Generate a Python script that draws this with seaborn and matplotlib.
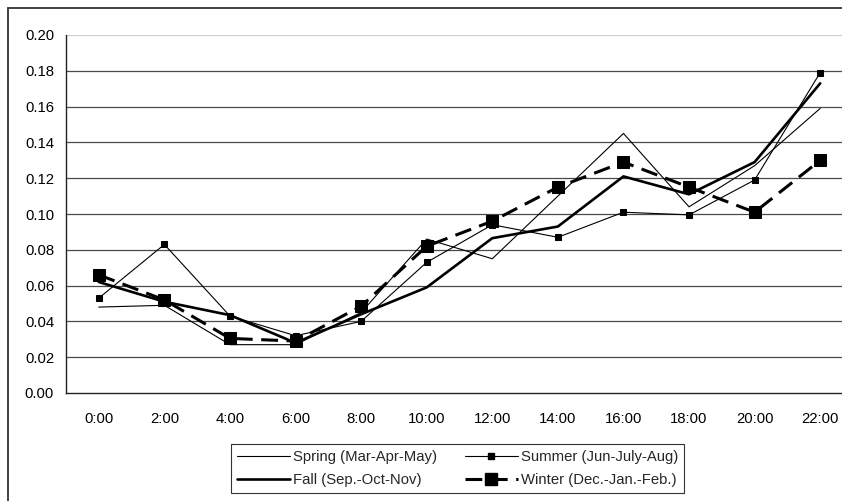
import matplotlib
matplotlib.use("Agg")
import matplotlib.pyplot as plt
from matplotlib.lines import Line2D
import seaborn as sns
import pandas as pd

hours = ["0:00", "2:00", "4:00", "6:00", "8:00", "10:00",
         "12:00", "14:00", "16:00", "18:00", "20:00", "22:00"]
spring = [0.048, 0.049, 0.027, 0.027, 0.045, 0.086, 0.075, 0.110, 0.145, 0.104, 0.127, 0.159]
summer = [0.053, 0.083, 0.043, 0.032, 0.040, 0.073, 0.094, 0.087, 0.101, 0.0995, 0.119, 0.179]
fall   = [0.062, 0.051, 0.0435, 0.028, 0.044, 0.059, 0.0865, 0.093, 0.121, 0.111, 0.129, 0.173]
winter = [0.066, 0.052, 0.0305, 0.029, 0.0485, 0.082, 0.096, 0.115, 0.129, 0.115, 0.101, 0.130]
series_names = ["Spring (Mar-Apr-May)", "Summer (Jun-July-Aug)",
                "Fall (Sep.-Oct-Nov)", "Winter (Dec.-Jan.-Feb.)"]
y_ticks = [0.00, 0.02, 0.04, 0.06, 0.08, 0.10, 0.12, 0.14, 0.16, 0.18, 0.20]

sns.set_theme(style="white")
plt.rcParams["font.family"] = ["Liberation Sans", "DejaVu Sans"]
FS = 10.7

W, H = 842, 501
fig = plt.figure(figsize=(W / 100, H / 100), dpi=100)
fig.patch.set_facecolor("white")

# plot area in pixel units
left, top, bottom, right = 66, 35, 393, 853
ax = fig.add_axes([left / W, (H - bottom) / H, (right - left) / W, (bottom - top) / H])
ax.set_facecolor("white")

pos = list(range(len(hours)))
df = pd.DataFrame({"pos": pos, "hour": hours,
                   "spring": spring, "summer": summer, "fall": fall, "winter": winter})

# horizontal gridlines
for v in y_ticks[1:]:
    ax.axhline(v, color="#cfcfcf" if v >= 0.199 else "#4a4a4a", lw=0.9, zorder=1)

styles = [
    dict(col="spring", lw=0.8, marker=None, ms=0, dash=None),
    dict(col="summer", lw=0.8, marker="s", ms=5.0, dash=None),
    dict(col="fall", lw=1.9, marker=None, ms=0, dash=None),
    dict(col="winter", lw=2.2, marker="s", ms=8.5, dash=(5.5, 2.8)),
]
for name, st in zip(series_names, styles):
    sns.lineplot(data=df, x="pos", y=st["col"], ax=ax, color="black",
                 linewidth=st["lw"], marker=st["marker"], markersize=st["ms"],
                 markeredgecolor="black", markerfacecolor="black",
                 label=name, legend=False, zorder=3)
    line = ax.get_lines()[-1]
    if st["dash"] is not None:
        line.set_dashes(st["dash"])

ax.set_xlim(-0.5, len(hours) - 0.5)
ax.set_ylim(0, 0.20)
ax.set_yticks(y_ticks)
ax.set_yticklabels([f"{v:.2f}" for v in y_ticks])
ax.set_xticks(pos)
ax.set_xticklabels(hours)
ax.set_xticks([p - 0.5 for p in pos] + [len(hours) - 0.5], minor=True)
ax.tick_params(axis="x", which="major", length=0, pad=13.5, labelsize=FS, colors="black")
ax.tick_params(axis="x", which="minor", length=3.6, width=1, color="black", direction="out")
ax.tick_params(axis="y", which="major", length=3.6, width=1, color="black", direction="out",
               pad=5, labelsize=FS, labelcolor="black")
ax.set_xlabel("")
ax.set_ylabel("")

for s in ["top", "right"]:
    ax.spines[s].set_visible(False)
for s in ["left", "bottom"]:
    ax.spines[s].set_color("#222222")
    ax.spines[s].set_linewidth(1.0)

# legend, filled row by row (matplotlib fills columns first)
h_spring = Line2D([], [], color="black", lw=0.8)
h_summer = Line2D([], [], color="black", lw=0.8, marker="s", ms=5.0)
h_fall = Line2D([], [], color="black", lw=1.9)
h_winter = Line2D([], [], color="black", lw=2.2, marker="s", ms=8.5, dashes=(5.5, 2.8))
leg = fig.legend([h_spring, h_fall, h_summer, h_winter],
                 [series_names[0], series_names[2], series_names[1], series_names[3]],
                 ncol=2, loc="upper left",
                 bbox_to_anchor=(231 / W, 1 - 444 / H), frameon=True,
                 fontsize=FS, handlelength=3.55, handletextpad=0.2,
                 columnspacing=1.9, labelspacing=0.6, borderpad=0.4,
                 fancybox=False, borderaxespad=0)
leg.get_frame().set_edgecolor("black")
leg.get_frame().set_linewidth(0.8)

# outer chart border
fig.add_artist(Line2D([8 / W, 8 / W], [0, 1 - 8 / H], transform=fig.transFigure,
                      color="#333333", lw=1.3))
fig.add_artist(Line2D([8 / W, 1], [1 - 8 / H, 1 - 8 / H], transform=fig.transFigure,
                      color="#333333", lw=1.3))

fig.savefig("out.png", dpi=100, facecolor="white")
